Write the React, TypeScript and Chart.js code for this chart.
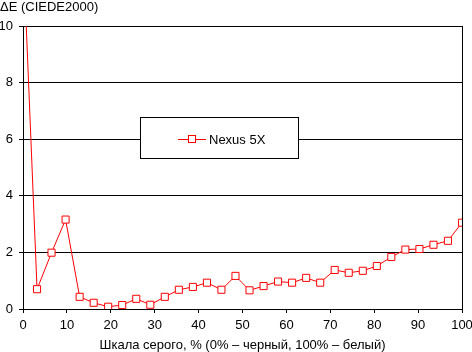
import React, { useEffect, useRef } from "react";
import { Chart, registerables } from "chart.js";

Chart.register(...registerables);

const grayLevels = [0, 3.2, 6.5, 9.7, 12.9, 16.1, 19.4, 22.6, 25.8, 29.0, 32.3, 35.5, 38.7, 41.9, 45.2, 48.4, 51.6, 54.8, 58.1, 61.3, 64.5, 67.7, 71.0, 74.2, 77.4, 80.6, 83.9, 87.1, 90.3, 93.5, 96.8, 100];
const deltaE = [12.8, 0.70, 1.99, 3.16, 0.43, 0.22, 0.08, 0.14, 0.36, 0.15, 0.43, 0.68, 0.78, 0.93, 0.68, 1.17, 0.66, 0.81, 0.97, 0.93, 1.10, 0.93, 1.38, 1.28, 1.35, 1.52, 1.84, 2.10, 2.12, 2.27, 2.41, 3.05];
const seriesLabel = "Nexus 5X";
const yTitle = "ΔE (CIEDE2000)";
const xTitle = "Шкала серого, % (0% – черный, 100% – белый)";

const FONT = "'Liberation Sans', Arial, sans-serif";

const decorPlugin = {
  id: "decor",
  afterDraw(chart: any) {
    const { ctx, chartArea } = chart;
    ctx.save();
    // right border
    ctx.strokeStyle = "#000";
    ctx.lineWidth = 1;
    const rx = Math.round(chartArea.right) + 0.5;
    ctx.beginPath();
    ctx.moveTo(rx, Math.round(chartArea.top));
    ctx.lineTo(rx, Math.round(chartArea.bottom) + 1);
    ctx.stroke();

    // titles
    ctx.fillStyle = "#000";
    ctx.font = `13px ${FONT}`;
    ctx.textBaseline = "alphabetic";
    ctx.textAlign = "left";
    ctx.fillText(yTitle, 0, 11);
    ctx.textAlign = "center";
    ctx.fillText(xTitle, (chartArea.left + chartArea.right) / 2, 349);

    // legend box
    const ds = chart.data.datasets[0];
    ctx.fillStyle = "#fff";
    ctx.fillRect(140, 117, 158, 41);
    ctx.strokeStyle = "#000";
    ctx.strokeRect(140.5, 117.5, 158, 41);
    ctx.strokeStyle = ds.borderColor;
    ctx.beginPath();
    ctx.moveTo(178, 139.5);
    ctx.lineTo(206, 139.5);
    ctx.stroke();
    ctx.fillStyle = "#fff";
    ctx.fillRect(188.5, 135.5, 7, 7);
    ctx.strokeRect(188.5, 135.5, 7, 7);
    ctx.fillStyle = "#000";
    ctx.textAlign = "left";
    ctx.textBaseline = "middle";
    ctx.fillText(ds.label, 209, 140);
    ctx.restore();
  },
};

export default function App() {
  const canvasRef = useRef<HTMLCanvasElement | null>(null);

  useEffect(() => {
    document.body.style.margin = "0";
    const canvas = canvasRef.current;
    if (!canvas) return;
    const chart = new Chart(canvas, {
      type: "line",
      data: {
        datasets: [
          {
            label: seriesLabel,
            data: grayLevels.map((x, i) => ({ x, y: deltaE[i] })),
            borderColor: "#ff0000",
            borderWidth: 1,
            pointStyle: "rect",
            pointRadius: 5,
            pointBackgroundColor: "#ffffff",
            pointBorderColor: "#ff0000",
            pointBorderWidth: 1,
            tension: 0,
          },
        ],
      },
      options: {
        animation: false,
        responsive: false,
        devicePixelRatio: 1,
        layout: { padding: { top: 26, right: 10, left: 0, bottom: 0 } },
        plugins: {
          legend: { display: false },
          tooltip: { enabled: false },
          title: { display: false },
        },
        scales: {
          x: {
            type: "linear",
            min: 0,
            max: 100,
            ticks: {
              stepSize: 10,
              color: "#000",
              font: { size: 13, family: FONT },
              padding: 5,
              maxRotation: 0,
            },
            grid: {
              drawOnChartArea: false,
              color: "#000",
              tickColor: "#000",
              tickLength: 4,
            },
            border: { color: "#000", width: 1 },
            afterFit: (s: any) => {
              s.height = 43;
              s.paddingLeft = 0;
              s.paddingRight = 0;
            },
          },
          y: {
            min: 0,
            max: 10,
            ticks: {
              stepSize: 2,
              color: "#000",
              font: { size: 13, family: FONT },
              padding: 6,
            },
            grid: {
              color: "#000",
              tickColor: "#000",
              tickLength: 4,
            },
            border: { color: "#000", width: 1 },
            afterFit: (s: any) => {
              s.width = 23;
              s.paddingTop = 0;
              s.paddingBottom = 0;
            },
          },
        },
      },
      plugins: [decorPlugin],
    });
    return () => chart.destroy();
  }, []);

  return (
    <div style={{ width: 472, height: 352 }}>
      <canvas ref={canvasRef} width={472} height={352} />
    </div>
  );
}
